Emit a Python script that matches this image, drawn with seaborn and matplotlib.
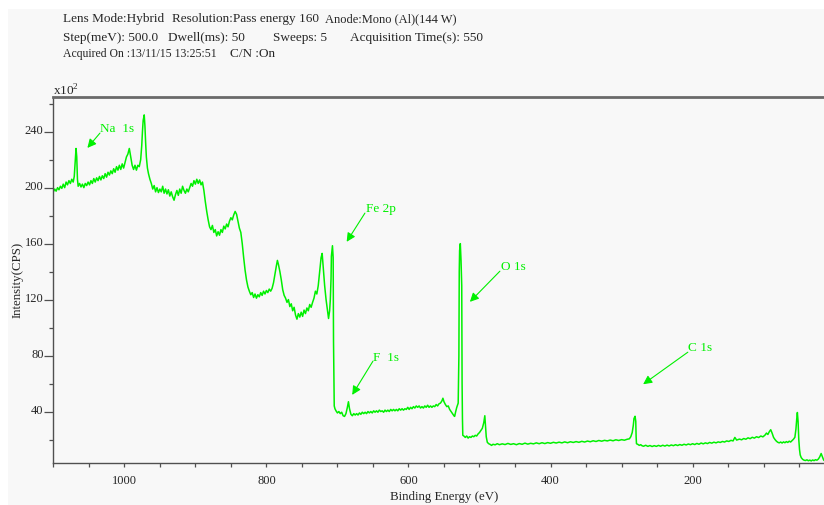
import numpy as np
import pandas as pd
import matplotlib
matplotlib.use("Agg")
import matplotlib.pyplot as plt
import seaborn as sns
from matplotlib.patches import Rectangle
from matplotlib.transforms import ScaledTranslation
from matplotlib.ticker import MultipleLocator

# ---------------- data ----------------
binding_energy = [
    1100, 1098, 1096, 1094, 1092, 1090, 1088, 1086, 1084, 1082, 1080, 1078, 1076, 1074, 1072,
    1070.5, 1069, 1068, 1067, 1066, 1065, 1063, 1061, 1059, 1057, 1055, 1053, 1051, 1049, 1047,
    1045, 1043, 1041, 1039, 1037, 1035, 1033, 1031, 1029, 1027, 1025, 1023, 1021, 1019, 1017,
    1015, 1013, 1011, 1009, 1007, 1005, 1003, 1001, 999, 997, 995, 993, 991, 989, 987,
    985, 983, 981, 979, 977, 975.5, 974.5, 973.5, 972, 971, 970, 969, 967.5, 966, 964,
    962, 960, 958, 956, 954, 952, 950, 948, 946, 944, 942, 940, 938, 936, 934,
    932, 930, 928, 926, 924, 922, 920, 918, 916, 914, 912, 910, 908, 906, 904,
    902, 900, 898, 896, 894, 892, 890, 888, 886, 884, 882, 880, 878, 876, 874,
    872, 870, 868, 866, 864, 862, 860, 858, 856, 854, 852, 850, 848, 846, 844,
    842, 840, 838, 836, 834, 832, 830, 828, 826, 824, 822, 820, 818, 816, 814,
    812, 810, 808, 806, 804, 802, 800, 798, 796, 794, 792, 790, 788, 786, 784.5,
    783, 781, 779, 777, 775, 773, 771, 769, 767, 765, 763, 761, 759, 757, 755,
    753, 751, 749, 747, 745, 743, 741, 739, 737, 735, 733, 731, 729, 727, 725,
    723, 721.5, 720, 718, 716, 714, 712.5, 711, 710, 709, 708.5, 707.5, 707, 706, 705.5,
    705, 704.5, 703.5, 702, 700, 698, 696, 694, 692, 690, 688, 686, 684.5, 683, 681,
    679, 677, 675, 673, 671, 669, 667, 665, 663, 661, 659, 657, 655, 653, 651,
    649, 647, 645, 643, 641, 639, 637, 635, 633, 631, 629, 627, 625, 623, 621,
    619, 617, 615, 613, 611, 609, 607, 605, 603, 601, 599, 597, 595, 593, 591,
    589, 587, 585, 583, 581, 579, 577, 575, 573, 571, 569, 567, 565, 563, 561,
    559, 557, 555, 553, 551.5, 550, 548, 546, 544, 542, 540, 538, 536, 535, 533.5,
    532, 530, 529, 528.5, 528, 527, 526, 525, 524.5, 524, 523.5, 522, 520, 518, 516,
    514, 512, 510, 508, 506, 504, 502, 500, 498, 496, 494, 492.5, 491.5, 490.5, 489,
    487, 485, 483, 481, 478, 475, 472, 468, 464, 460, 456, 452, 448, 444, 440,
    436, 432, 428, 424, 420, 416, 412, 408, 404, 400, 396, 392, 388, 384, 380,
    376, 372, 368, 364, 360, 356, 352, 348, 344, 340, 336, 332, 328, 324, 320,
    316, 312, 308, 304, 300, 296, 292, 289, 287, 285, 283.5, 282.5, 281, 280, 279.5,
    279, 277, 275, 273, 271, 269, 266, 263, 260, 257, 254, 251, 248, 245, 242,
    239, 236, 233, 230, 227, 224, 221, 218, 215, 212, 209, 206, 203, 200, 197,
    194, 191, 188, 185, 182, 179, 176, 173, 170, 167, 164, 161, 158, 155, 152,
    149, 146, 143, 140.5, 138, 134, 131, 128, 125, 122, 119, 116, 113, 110, 107,
    104, 101, 98, 96, 94, 92, 90, 88, 86, 84, 82, 80, 78, 76, 74,
    72, 70, 68, 66, 64, 62, 60, 58, 56, 54.5, 53.5, 52.5, 51.5, 50.5, 49.5,
    48.5, 47, 45, 43, 41, 39, 37, 35, 33, 31, 29, 27, 25, 23, 21,
    19, 17.5, 16, 15,
]
intensity = [
    197, 199, 197.5, 200, 198.5, 201, 199.5, 202.5, 200, 204, 202, 205, 203, 206, 204,
    208, 220, 228, 222, 206, 201, 203, 200.5, 202.5, 200, 203, 201.5, 204, 202, 205,
    203, 206.5, 204, 207, 205, 208, 205.5, 208.5, 206.5, 210, 207.5, 211, 209, 212, 210,
    213.5, 211, 215, 212.5, 216, 213, 217, 214, 218, 222, 224, 228, 222, 216, 213,
    216, 212.5, 216, 215, 220, 230, 240, 248, 252, 244, 232, 222, 214, 210, 206,
    203, 199, 201.5, 197, 200, 196.5, 199, 197, 201, 196, 199, 195.5, 198.5, 194, 197,
    193.5, 191, 195, 198, 194.5, 199, 196, 201, 198, 196, 199, 197, 200, 203, 201,
    205, 202.5, 206, 203, 205.5, 202, 204, 198, 190, 183, 177, 172, 170, 173, 168,
    170, 165.5, 168.5, 166, 170, 168, 172.5, 170.5, 174, 172, 176, 178.5, 177, 180.5, 183,
    181, 176, 171, 168, 160, 150, 141, 134, 129, 126, 123.5, 125, 121.5, 124, 121,
    123.5, 122, 125, 123, 126, 124, 126.5, 125, 127.5, 126, 128, 132, 138, 144, 148,
    145, 140, 134, 127, 123, 121, 118, 120, 115, 117, 112, 114.5, 109, 106, 110,
    107.5, 111, 108, 112.5, 110, 114, 112, 116.5, 114.5, 118, 121, 126, 124, 130, 140,
    150, 153, 143, 130, 120, 112, 106.5, 112, 120, 135, 151, 156, 158.5, 150, 90,
    65, 44, 42, 40.5, 39, 40, 38.5, 39.5, 37, 36.5, 38.5, 43, 47, 42, 38,
    37, 38.5, 37.5, 38.5, 37.5, 39, 38, 39.5, 38.5, 39.5, 38.5, 40, 39, 40, 39,
    40.5, 39.5, 40.5, 39.5, 41, 40, 40.5, 39.5, 41, 40, 41, 40, 41.5, 40.5, 41.5,
    40.5, 41.5, 40.5, 42, 41, 42, 41, 42, 41.5, 43, 41.5, 43, 42, 43.5, 42.5,
    44, 43, 44, 42.5, 43.5, 42.5, 44, 43, 44.5, 43, 44, 43, 44, 43.5, 45,
    44, 45.5, 46, 47.5, 49.5, 47, 45, 43.5, 44, 41.5, 40, 38.5, 37, 36.5, 40,
    43, 46, 80, 140, 155, 160, 148, 130, 60, 35, 23, 22.5, 21.5, 22.5, 21,
    22, 21.5, 22.5, 22, 23, 22.5, 24, 25, 26.5, 28, 32, 37, 30, 22, 18,
    17, 16.5, 15.8, 16.6, 16.2, 17.0, 16.3, 16.9, 16.4, 17.2, 16.5, 17.0, 16.3, 17.1, 16.6,
    17.4, 16.7, 17.3, 16.9, 17.6, 17.0, 17.7, 17.1, 17.8, 17.3, 18.0, 17.5, 18.1, 17.6, 18.3,
    17.7, 18.4, 17.9, 18.5, 18.0, 18.7, 18.2, 18.9, 18.4, 19.1, 18.6, 19.3, 18.8, 19.4, 19.0,
    19.6, 19.1, 19.8, 19.3, 19.9, 19.5, 20.2, 20.5, 22, 25, 30, 35, 36.6, 33, 22,
    17, 16.5, 15.8, 16.3, 15.5, 15.2, 15.9, 15.1, 15.7, 15.0, 15.6, 15.1, 15.8, 15.2, 15.9,
    15.3, 16.0, 15.4, 16.1, 15.6, 16.3, 15.7, 16.4, 15.9, 16.6, 16.1, 16.8, 16.3, 17.0, 16.4,
    17.2, 16.6, 17.5, 16.9, 17.6, 17.1, 17.9, 17.4, 18.1, 17.6, 18.3, 17.9, 18.6, 18.2, 19.0,
    18.6, 19.4, 19.0, 21.5, 19.6, 20.3, 19.8, 20.7, 20.2, 21.2, 20.6, 21.6, 21.0, 22.0, 21.4,
    22.5, 21.9, 23.2, 24.6, 23.6, 25.6, 27.0, 24.5, 21.5, 20.0, 18.8, 18.0, 17.6, 18.2, 17.5,
    18.3, 17.7, 18.5, 17.9, 18.8, 18.2, 19.2, 20.2, 21.6, 27.5, 34, 39.3, 33, 20, 13,
    9, 7, 5.8, 5.2, 5.0, 5.5, 4.8, 5.3, 4.7, 5.4, 4.9, 5.6, 5.2, 6.0, 7.6,
    10, 8, 6, 5,
]
x_ticks = [1000, 800, 600, 400, 200]
y_ticks = [40, 80, 120, 160, 200, 240]
peak_labels = ["Na  1s", "Fe 2p", "O 1s", "F  1s", "C 1s"]
label_xy = [(1034, 242.6), (660.3, 185.4), (469.9, 143.7), (650.0, 79.3), (206.7, 85.8)]
arrow_tip = [(1052, 228.4), (687, 161.3), (513.5, 118.4), (679.2, 51.9), (269.6, 59.5)]
arrow_start = [(1034.3, 239.0), (661.3, 181.8), (471.3, 140.3), (650.0, 76.0), (206.7, 82.4)]
header_lines = [
    [(62.7, "Lens Mode:Hybrid", 9.5), (171.7, "Resolution:Pass energy 160", 9.5),
     (325, "Anode:Mono (Al)(144 W)", 9.0)],
    [(62.7, "Step(meV): 500.0", 9.5), (168, "Dwell(ms): 50", 9.5), (273, "Sweeps: 5", 9.5),
     (350, "Acquisition Time(s): 550", 9.5)],
    [(62.7, "Acquired On :13/11/15 13:25:51", 8.5), (230, "C/N :On", 9.5)],
]

df = pd.DataFrame({"Binding Energy (eV)": binding_energy, "Intensity(CPS)": intensity})

# ---------------- figure ----------------
sns.set_theme(style="white")
plt.rcParams["font.family"] = ["Liberation Serif", "DejaVu Serif"]
plt.rcParams["mathtext.fontset"] = "custom"
plt.rcParams["mathtext.rm"] = "Liberation Serif"

W, H = 824, 506
fig = plt.figure(figsize=(W / 100, H / 100), dpi=100, facecolor="white")
BG = "#f8f8f8"
fig.patches.append(Rectangle((8 / W, 0), 1 - 8 / W, 1 - 10 / H, transform=fig.transFigure,
                             facecolor=BG, edgecolor="none", zorder=-10))

left, right, top, bottom = 53.3, 824, 97.7, 464.3
ax = fig.add_axes([left / W, 1 - bottom / H, (right - left) / W, (bottom - top) / H])
ax.set_facecolor(BG)

GREEN = "#00f000"
sns.lineplot(data=df, x="Binding Energy (eV)", y="Intensity(CPS)", ax=ax,
             color=GREEN, lw=1.1, estimator=None, sort=False)

ax.set_xlim(1100, 15)
ax.set_ylim(3, 265)

ax.set_xticks(x_ticks)
ax.xaxis.set_minor_locator(MultipleLocator(50))
ax.set_yticks(y_ticks)
ax.yaxis.set_minor_locator(MultipleLocator(20))
ax.set_xlabel("")
ax.set_ylabel("")

spine_c = "#505050"
for s in ["left", "bottom"]:
    ax.spines[s].set_color(spine_c)
    ax.spines[s].set_linewidth(1.0)
ax.spines["right"].set_visible(False)
ax.spines["top"].set_color("#6a6a6a")
ax.spines["top"].set_linewidth(2.0)

ax.tick_params(axis="y", which="major", direction="out", length=6.5, width=0.9,
               color=spine_c, labelsize=9, pad=0.5, left=True)
ax.tick_params(axis="y", which="minor", direction="out", length=3, width=0.9,
               color=spine_c, left=True)
ax.tick_params(axis="x", which="both", direction="out", length=3, width=0.9,
               color=spine_c, labelsize=9, pad=5, bottom=True)
for lab in ax.get_yticklabels():
    lab.set_transform(lab.get_transform() + ScaledTranslation(0, 2.5 / 72, fig.dpi_scale_trans))

# peak annotations
for txt, xy_t, tip, st in zip(peak_labels, label_xy, arrow_tip, arrow_start):
    ax.text(xy_t[0], xy_t[1], txt, color=GREEN, fontsize=9.5, ha="left", va="center")
    ax.annotate("", xy=tip, xytext=st,
                arrowprops=dict(arrowstyle="-|>", color=GREEN, lw=0.8,
                                mutation_scale=13, shrinkA=0, shrinkB=0))

# axis labels and header
def fpx(x, y):
    return x / W, 1 - y / H

fig.text(*fpx(444.5, 497), "Binding Energy (eV)", ha="center", va="center", fontsize=9.3)
fig.text(*fpx(17.5, 280), "Intensity(CPS)", ha="center", va="center", fontsize=9.3, rotation=90)
fig.text(*fpx(52.7, 91), r"x10$^{\mathregular{2}}$", ha="left", va="center", fontsize=9.5)

for yy, line in zip([19.3, 37.5, 53.7], header_lines):
    for xx, t, fs in line:
        fig.text(*fpx(xx, yy), t, ha="left", va="center", fontsize=fs)

fig.savefig("out.png", dpi=100, facecolor=fig.get_facecolor())
